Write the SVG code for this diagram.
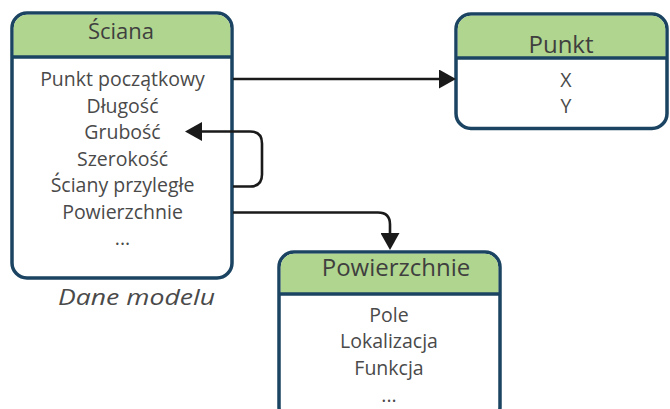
<svg xmlns="http://www.w3.org/2000/svg" width="670" height="409" viewBox="0 0 670 409">
<defs>
<marker id="arr" viewBox="0 0 17 19" refX="1" refY="9.5" markerWidth="17" markerHeight="19" markerUnits="userSpaceOnUse" orient="auto">
<path d="M0 0 L17 9.5 L0 19 Z" fill="#1a1a1a"/>
</marker>
</defs>
<style>
.box{fill:#ffffff;stroke:#1b4462;stroke-width:3.5}
.head{fill:#b0d58e}
.div{stroke:#1b4462;stroke-width:3.5}
.title{font-family:"Open Sans","Noto Sans",sans-serif;font-size:22px;fill:#3f3f3f;text-anchor:middle}
.title2{font-family:"Open Sans","Noto Sans",sans-serif;font-size:24px;fill:#3f3f3f;text-anchor:middle}
.item{font-family:"Open Sans","Noto Sans",sans-serif;font-size:19.5px;fill:#4a4a4a;text-anchor:middle}
.cap{font-family:"Open Sans","Noto Sans",sans-serif;font-size:22px;font-style:italic;fill:#4a4a4a;text-anchor:middle}
.con{fill:none;stroke:#1a1a1a;stroke-width:2.6}
</style>
<rect width="670" height="409" fill="#ffffff"/>
<g id="sciana">
<rect class="box" x="12" y="13" width="220" height="265" rx="15"/>
<path class="head" d="M27 14.75 H217 A13.25 13.25 0 0 1 230.25 28 V57 H13.75 V28 A13.25 13.25 0 0 1 27 14.75 Z"/>
<line class="div" x1="12" y1="57" x2="232" y2="57"/>
<text class="title" x="121" y="39">Ściana</text>
<text class="item" x="122.5" y="86">Punkt początkowy</text>
<text class="item" x="122.5" y="112.5">Długość</text>
<text class="item" x="122.5" y="139">Grubość</text>
<text class="item" x="122.5" y="165.5">Szerokość</text>
<text class="item" x="122.5" y="192">Ściany przyległe</text>
<text class="item" x="122.5" y="218.5">Powierzchnie</text>
<text class="item" x="122.5" y="245">...</text>
</g>
<g id="punkt">
<rect class="box" x="456" y="14" width="211" height="114.5" rx="15"/>
<path class="head" d="M471 15.75 H652 A13.25 13.25 0 0 1 665.25 29 V58 H457.75 V29 A13.25 13.25 0 0 1 471 15.75 Z"/>
<line class="div" x1="456" y1="58" x2="667" y2="58"/>
<text class="title2" x="561" y="53">Punkt</text>
<text class="item" x="566" y="87">X</text>
<text class="item" x="566" y="113">Y</text>
</g>
<g id="powierzchnie">
<rect class="box" x="279" y="252" width="221" height="170" rx="15"/>
<path class="head" d="M294 253.75 H485 A13.25 13.25 0 0 1 498.25 267 V294 H280.75 V267 A13.25 13.25 0 0 1 294 253.75 Z"/>
<line class="div" x1="279" y1="294" x2="500" y2="294"/>
<text class="title2" x="396" y="276">Powierzchnie</text>
<text class="item" x="389" y="321.5">Pole</text>
<text class="item" x="389" y="348">Lokalizacja</text>
<text class="item" x="389" y="374.5">Funkcja</text>
<text class="item" x="389" y="402">...</text>
</g>
<text class="cap" x="136.5" y="305" textLength="157" lengthAdjust="spacingAndGlyphs">Dane modelu</text>
<g id="connectors">
<path class="con" d="M233 79 H440" marker-end="url(#arr)"/>
<path class="con" d="M233 186.5 H250 Q262 186.5 262 174.5 V143.5 Q262 131.5 250 131.5 H201" marker-end="url(#arr)"/>
<path class="con" d="M233 212.5 H378 Q390 212.5 390 224.5 V234" marker-end="url(#arr)"/>
</g>
</svg>
